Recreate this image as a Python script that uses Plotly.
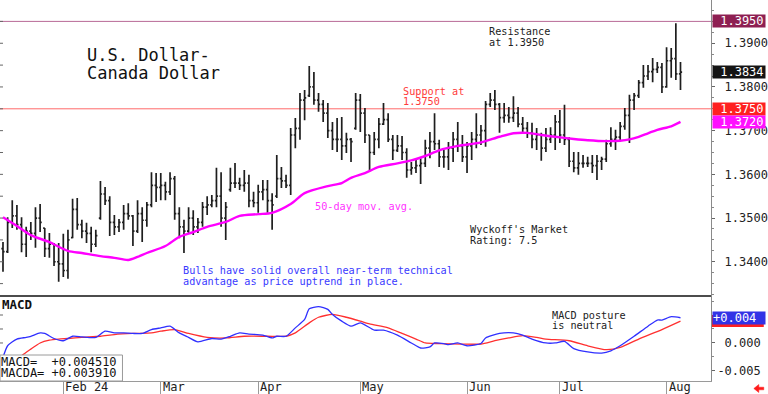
import pandas as pd
import plotly.graph_objects as go

# ---------------- data ----------------
sessions = pd.bdate_range("2024-01-15", "2024-08-06")   # trading sessions shown

bar_high = [
    1.3445, 1.3502, 1.3541, 1.3530, 1.3502, 1.3480, 1.3491, 1.3525, 1.3532, 1.3477,
    1.3466, 1.3443, 1.3443, 1.3464, 1.3473, 1.3544, 1.3546, 1.3496, 1.3489, 1.3480,
    1.3473, 1.3585, 1.3571, 1.3550, 1.3507, 1.3498, 1.3530, 1.3534, 1.3507, 1.3541,
    1.3525, 1.3537, 1.3605, 1.3603, 1.3603, 1.3583, 1.3605, 1.3596, 1.3525, 1.3496,
    1.3525, 1.3518, 1.3500, 1.3537, 1.3550, 1.3553, 1.3615, 1.3605, 1.3537, 1.3615,
    1.3626, 1.3592, 1.3610, 1.3599, 1.3560, 1.3576, 1.3587, 1.3587, 1.3557, 1.3644,
    1.3617, 1.3599, 1.3706, 1.3729, 1.3786, 1.3793, 1.3848, 1.3834, 1.3786, 1.3770,
    1.3763, 1.3720, 1.3729, 1.3731, 1.3695, 1.3683, 1.3786, 1.3784, 1.3752, 1.3690,
    1.3697, 1.3729, 1.3763, 1.3740, 1.3690, 1.3690, 1.3688, 1.3660, 1.3628, 1.3633,
    1.3637, 1.3679, 1.3697, 1.3740, 1.3679, 1.3656, 1.3674, 1.3697, 1.3720, 1.3690,
    1.3674, 1.3697, 1.3740, 1.3713, 1.3768, 1.3786, 1.3793, 1.3763, 1.3763, 1.3754,
    1.3779, 1.3754, 1.3731, 1.3720, 1.3718, 1.3706, 1.3695, 1.3706, 1.3708, 1.3736,
    1.3747, 1.3759, 1.3685, 1.3651, 1.3651, 1.3644, 1.3640, 1.3644, 1.3644, 1.3640,
    1.3679, 1.3708, 1.3702, 1.3720, 1.3752, 1.3782, 1.3786, 1.3816, 1.3850, 1.3850,
    1.3866, 1.3857, 1.3855, 1.3891, 1.3889, 1.3946, 1.3857,
]
bar_low = [
    1.3377, 1.3420, 1.3477, 1.3473, 1.3422, 1.3411, 1.3450, 1.3432, 1.3468, 1.3411,
    1.3409, 1.3390, 1.3354, 1.3365, 1.3361, 1.3454, 1.3473, 1.3454, 1.3443, 1.3422,
    1.3434, 1.3496, 1.3530, 1.3459, 1.3461, 1.3468, 1.3473, 1.3496, 1.3436, 1.3466,
    1.3445, 1.3480, 1.3525, 1.3537, 1.3541, 1.3541, 1.3553, 1.3496, 1.3454, 1.3420,
    1.3466, 1.3461, 1.3466, 1.3480, 1.3507, 1.3525, 1.3525, 1.3480, 1.3450, 1.3560,
    1.3569, 1.3564, 1.3560, 1.3525, 1.3525, 1.3512, 1.3541, 1.3512, 1.3473, 1.3546,
    1.3569, 1.3569, 1.3553, 1.3660, 1.3679, 1.3724, 1.3777, 1.3759, 1.3743, 1.3720,
    1.3683, 1.3656, 1.3651, 1.3633, 1.3649, 1.3628, 1.3702, 1.3697, 1.3672, 1.3610,
    1.3644, 1.3660, 1.3713, 1.3674, 1.3633, 1.3651, 1.3633, 1.3592, 1.3599, 1.3603,
    1.3578, 1.3617, 1.3637, 1.3656, 1.3617, 1.3615, 1.3610, 1.3628, 1.3651, 1.3628,
    1.3603, 1.3633, 1.3660, 1.3667, 1.3663, 1.3754, 1.3747, 1.3695, 1.3718, 1.3718,
    1.3720, 1.3708, 1.3695, 1.3683, 1.3660, 1.3656, 1.3631, 1.3651, 1.3672, 1.3656,
    1.3672, 1.3667, 1.3617, 1.3605, 1.3599, 1.3615, 1.3617, 1.3603, 1.3587, 1.3610,
    1.3628, 1.3663, 1.3656, 1.3674, 1.3702, 1.3672, 1.3747, 1.3775, 1.3798, 1.3816,
    1.3811, 1.3832, 1.3786, 1.3798, 1.3821, 1.3816, 1.3793,
]
bar_open = [
    1.3430, 1.3423, 1.3490, 1.3505, 1.3485, 1.3440, 1.3470, 1.3465, 1.3500, 1.3477,
    1.3430, 1.3440, 1.3400, 1.3395, 1.3380, 1.3455, 1.3520, 1.3485, 1.3470, 1.3465,
    1.3440, 1.3500, 1.3555, 1.3540, 1.3490, 1.3480, 1.3490, 1.3510, 1.3505, 1.3470,
    1.3510, 1.3495, 1.3530, 1.3575, 1.3570, 1.3575, 1.3560, 1.3590, 1.3510, 1.3480,
    1.3470, 1.3500, 1.3480, 1.3490, 1.3525, 1.3530, 1.3540, 1.3550, 1.3500, 1.3565,
    1.3580, 1.3580, 1.3575, 1.3580, 1.3540, 1.3535, 1.3560, 1.3565, 1.3540, 1.3550,
    1.3590, 1.3585, 1.3575, 1.3690, 1.3705, 1.3770, 1.3780, 1.3800, 1.3770, 1.3760,
    1.3740, 1.3700, 1.3680, 1.3680, 1.3665, 1.3680, 1.3705, 1.3770, 1.3740, 1.3690,
    1.3650, 1.3680, 1.3715, 1.3725, 1.3680, 1.3655, 1.3665, 1.3650, 1.3610, 1.3615,
    1.3620, 1.3625, 1.3660, 1.3675, 1.3670, 1.3640, 1.3640, 1.3660, 1.3680, 1.3665,
    1.3640, 1.3665, 1.3680, 1.3690, 1.3700, 1.3760, 1.3770, 1.3760, 1.3730, 1.3735,
    1.3730, 1.3740, 1.3715, 1.3705, 1.3695, 1.3680, 1.3690, 1.3660, 1.3680, 1.3690,
    1.3720, 1.3690, 1.3680, 1.3630, 1.3615, 1.3625, 1.3625, 1.3625, 1.3620, 1.3630,
    1.3635, 1.3670, 1.3680, 1.3685, 1.3710, 1.3735, 1.3770, 1.3780, 1.3810, 1.3825,
    1.3835, 1.3840, 1.3845, 1.3800, 1.3860, 1.3865, 1.3830,
]
bar_close = [
    1.3423, 1.3490, 1.3505, 1.3485, 1.3440, 1.3470, 1.3465, 1.3500, 1.3490, 1.3430,
    1.3440, 1.3400, 1.3395, 1.3380, 1.3450, 1.3520, 1.3485, 1.3470, 1.3465, 1.3440,
    1.3460, 1.3555, 1.3540, 1.3490, 1.3480, 1.3490, 1.3510, 1.3505, 1.3470, 1.3510,
    1.3495, 1.3530, 1.3575, 1.3570, 1.3575, 1.3560, 1.3590, 1.3510, 1.3480, 1.3470,
    1.3500, 1.3480, 1.3490, 1.3525, 1.3530, 1.3540, 1.3550, 1.3500, 1.3525, 1.3580,
    1.3580, 1.3575, 1.3580, 1.3540, 1.3535, 1.3560, 1.3565, 1.3540, 1.3530, 1.3590,
    1.3585, 1.3575, 1.3690, 1.3705, 1.3770, 1.3775, 1.3800, 1.3770, 1.3760, 1.3740,
    1.3700, 1.3680, 1.3680, 1.3665, 1.3680, 1.3675, 1.3770, 1.3740, 1.3690, 1.3650,
    1.3680, 1.3715, 1.3725, 1.3680, 1.3655, 1.3665, 1.3650, 1.3610, 1.3615, 1.3620,
    1.3625, 1.3660, 1.3675, 1.3670, 1.3640, 1.3640, 1.3660, 1.3680, 1.3665, 1.3640,
    1.3665, 1.3680, 1.3690, 1.3700, 1.3760, 1.3770, 1.3760, 1.3730, 1.3735, 1.3730,
    1.3740, 1.3715, 1.3705, 1.3695, 1.3680, 1.3690, 1.3660, 1.3680, 1.3690, 1.3720,
    1.3690, 1.3680, 1.3630, 1.3615, 1.3625, 1.3625, 1.3625, 1.3620, 1.3630, 1.3635,
    1.3670, 1.3680, 1.3685, 1.3710, 1.3735, 1.3770, 1.3780, 1.3810, 1.3825, 1.3835,
    1.3840, 1.3845, 1.3800, 1.3860, 1.3865, 1.3830, 1.3834,
]

# 50-day moving average, read at selected sessions (session number from start)
ma_session = [0, 3, 6, 10, 14, 17, 21, 24, 27, 29, 31, 35, 38, 41, 44, 48, 51, 55, 58, 62,
              65, 70, 73, 75, 78, 81, 85, 88, 91, 94, 98, 103, 107, 110, 113, 116, 119, 123,
              126, 130, 133, 135, 137, 139, 141, 144, 146]
ma_value = [1.3502, 1.3482, 1.3461, 1.3445, 1.3425, 1.3420, 1.3413, 1.3409, 1.3404, 1.3411,
            1.3420, 1.3436, 1.3457, 1.3468, 1.3480, 1.3491, 1.3505, 1.3509, 1.3512, 1.3532,
            1.3557, 1.3573, 1.3580, 1.3592, 1.3603, 1.3617, 1.3625, 1.3632, 1.3642, 1.3655,
            1.3665, 1.3673, 1.3686, 1.3694, 1.3695, 1.3690, 1.3686, 1.3681, 1.3678, 1.3676,
            1.3677, 1.3680, 1.3686, 1.3694, 1.3702, 1.3710, 1.3720]

# MACD (blue) and its average MACDA (red), read at selected sessions
macd_session = [0, 1, 3, 5, 6, 8, 9, 11, 13, 15, 17, 20, 22, 24, 26, 28, 30, 32, 34, 36,
                38, 40, 42, 45, 47, 49, 51, 53, 56, 58, 59, 61, 63, 65, 66, 68, 70, 71, 73, 75,
                77, 80, 82, 85, 88, 90, 92, 93, 95, 96, 98, 100, 103, 104, 107, 110, 112, 114,
                117, 119, 121, 123, 126, 129, 131, 133, 136, 139, 141, 142, 144, 146]
macd_value = [-0.0026, -0.0005, 0.0007, 0.0010, 0.0012, 0.0018, 0.0017, 0.0008, 0.0004, 0.0012,
              0.0011, 0.0010, 0.0021, 0.0018, 0.0018, 0.0017, 0.0017, 0.0024, 0.0027, 0.0030,
              0.0018, 0.0010, 0.0002, 0.0008, 0.0007, 0.0012, 0.0018, 0.0016, 0.0014, 0.0009,
              0.0012, 0.0012, 0.0027, 0.0042, 0.0061, 0.0065, 0.0060, 0.0051, 0.0039, 0.0030,
              0.0036, 0.0023, 0.0023, 0.0014, 0.0000, -0.0009, -0.0007, 0.0000, -0.0001, -0.0003,
              0.0000, -0.0005, -0.0001, 0.0009, 0.0017, 0.0018, 0.0014, 0.0007, 0.0000, 0.0000,
              0.0003, -0.0010, -0.0016, -0.0018, -0.0014, -0.0005, 0.0012, 0.0030, 0.0041, 0.0041,
              0.0047, 0.00451]
macda_session = [0, 4, 6, 8, 10, 12, 14, 17, 21, 24, 28, 32, 34, 37, 40, 44, 48, 52, 57, 61,
                 63, 66, 68, 71, 74, 77, 79, 83, 86, 89, 91, 94, 99, 103, 106, 109, 112, 115,
                 117, 122, 126, 130, 133, 137, 142, 146]
macda_value = [-0.0055, -0.0023, -0.0011, 0.0000, 0.0005, 0.0007, 0.0008, 0.0010, 0.0012, 0.0015,
               0.0017, 0.0018, 0.0021, 0.0024, 0.0017, 0.0010, 0.0009, 0.0012, 0.0012, 0.0012,
               0.0018, 0.0036, 0.0046, 0.0051, 0.0046, 0.0039, 0.0034, 0.0027, 0.0017, 0.0007,
               0.0000, -0.0001, -0.0002, -0.0002, 0.0004, 0.0009, 0.0013, 0.0010, 0.0007, 0.0004,
               -0.0005, -0.0012, -0.0008, 0.0007, 0.0024, 0.00391]

price_ticks = [1.34, 1.35, 1.36, 1.37, 1.38, 1.39]
macd_ticks = [-0.005, 0.0, 0.005]
macd_tick_text = ["-0.005", "\u00a00.000", ""]      # the 0.005 label sits under the value boxes
month_labels = ["Feb 24", "Mar", "Apr", "May", "Jun", "Jul", "Aug"]

RESISTANCE = 1.3950
SUPPORT = 1.3750
LAST_CLOSE = 1.3834
LAST_MA = 1.3720
MACD_LAST = 0.004510
MACDA_LAST = 0.003910
MACD_BOX_TEXT = "+0.004"

# ---------------- layout helpers ----------------
W, H = 768, 394
ML, MR, MT, MB = 0, 54, 0, 13
PW, PH = W - ML - MR, H - MT - MB          # 714 x 381
SPLIT = 296                                 # pixel row of panel divider
PRICE_DOM = [1 - SPLIT / PH, 1]
MACD_DOM = [0, 1 - SPLIT / PH]
MONO = "DejaVu Sans Mono"

def px(x):
    return x / PW

def py(y):
    return 1 - y / PH

x_idx = list(range(len(sessions)))
month_pos = [i for i in range(1, len(sessions)) if sessions[i].month != sessions[i - 1].month]

fig = go.Figure()

fig.add_trace(go.Ohlc(
    x=x_idx, open=bar_open, high=bar_high, low=bar_low, close=bar_close,
    increasing=dict(line=dict(color="#1e1e1e", width=1.7)),
    decreasing=dict(line=dict(color="#1e1e1e", width=1.7)),
    tickwidth=0.35, hoverinfo="skip", showlegend=False,
    xaxis="x", yaxis="y",
))
fig.add_trace(go.Scatter(
    x=ma_session, y=ma_value, mode="lines",
    line=dict(color="#ff00ff", width=2.4, shape="spline", smoothing=0.8),
    hoverinfo="skip", showlegend=False, xaxis="x", yaxis="y",
))
fig.add_trace(go.Scatter(
    x=macda_session, y=macda_value, mode="lines",
    line=dict(color="#ff3030", width=1.3, shape="spline", smoothing=0.6),
    hoverinfo="skip", showlegend=False, xaxis="x", yaxis="y2",
))
fig.add_trace(go.Scatter(
    x=macd_session, y=macd_value, mode="lines",
    line=dict(color="#3030ff", width=1.3, shape="spline", smoothing=0.6),
    hoverinfo="skip", showlegend=False, xaxis="x", yaxis="y2",
))

X_RANGE = [-3.0 / 4.66, (PW - 3.0) / 4.66]

axis_font = dict(family=MONO, size=12, color="#222222")
fig.update_layout(
    width=W, height=H,
    margin=dict(l=ML, r=MR, t=MT, b=MB),
    paper_bgcolor="white", plot_bgcolor="white",
    showlegend=False,
    xaxis=dict(
        domain=[0, 1], anchor="y2", range=X_RANGE,
        showgrid=False, zeroline=False,
        showline=True, linecolor="#9a9a9a", linewidth=1,
        tickvals=month_pos, ticks="outside", ticklen=13, tickcolor="#9a9a9a",
        showticklabels=False,
        rangeslider=dict(visible=False),
    ),
    yaxis=dict(
        domain=PRICE_DOM, anchor="x", side="right",
        range=[RESISTANCE - (SPLIT - 21.4) / 4370, RESISTANCE + 21.4 / 4370],
        showgrid=False, zeroline=False,
        showline=True, linecolor="#8a8a8a", linewidth=1,
        tickvals=price_ticks, ticktext=["\u00a0" + f"{v:.4f}" for v in price_ticks],
        ticks="outside", ticklen=3, tickcolor="#666666",
        minor=dict(dtick=0.0025, ticks="outside", ticklen=2, tickcolor="#888888"),
        tickfont=axis_font,
    ),
    yaxis2=dict(
        domain=MACD_DOM, anchor="x", side="right",
        range=[-0.0068, 0.0084],
        showgrid=False, zeroline=False,
        showline=True, linecolor="#8a8a8a", linewidth=1,
        tickvals=macd_ticks, ticktext=macd_tick_text,
        ticks="outside", ticklen=3, tickcolor="#666666",
        minor=dict(dtick=0.0025, ticks="outside", ticklen=2, tickcolor="#888888"),
        tickfont=axis_font,
    ),
)

shapes = []
# resistance / support reference lines
shapes.append(dict(type="line", xref="paper", yref="y", x0=0, x1=1, y0=RESISTANCE, y1=RESISTANCE,
                   line=dict(color="#b86a96", width=1), layer="below"))
shapes.append(dict(type="line", xref="paper", yref="y", x0=0, x1=1, y0=SUPPORT, y1=SUPPORT,
                   line=dict(color="#ff6a6a", width=1), layer="below"))
# panel divider
shapes.append(dict(type="line", xref="paper", yref="paper", x0=0, x1=1, y0=py(SPLIT), y1=py(SPLIT),
                   line=dict(color="#111111", width=1.5)))
# small inside ticks on the left edge
for k in range(13):
    v = 1.335 + 0.005 * k
    shapes.append(dict(type="line", xref="paper", yref="y", x0=0, x1=px(3), y0=v, y1=v,
                       line=dict(color="#666666", width=1)))
for k in range(-2, 3):
    v = 0.0025 * k
    shapes.append(dict(type="line", xref="paper", yref="y2", x0=0, x1=px(3), y0=v, y1=v,
                       line=dict(color="#666666", width=1)))
# MACD readout box
shapes.append(dict(type="rect", xref="paper", yref="paper", x0=0, x1=px(123), y0=py(381), y1=py(355),
                   line=dict(color="#9a9a9a", width=1), fillcolor="white", layer="above"))
# red MACDA value marker peeking out under the blue MACD value box
shapes.append(dict(type="rect", xref="paper", yref="y2", x0=px(715), x1=px(767),
                   y0=MACDA_LAST - 6 / 5600, y1=MACDA_LAST + 6 / 5600,
                   fillcolor="#ff2020", line=dict(width=0)))
# red arrow at bottom right
arrow_pts = [(757, 388.5), (762, 384.5), (762, 387.2), (767, 387.2), (767, 389.8), (762, 389.8), (762, 392.5)]
path = "M " + " L ".join(f"{px(a):.5f},{py(b):.5f}" for a, b in arrow_pts) + " Z"
shapes.append(dict(type="path", xref="paper", yref="paper", path=path,
                   fillcolor="#ff1a1a", line=dict(color="#ff1a1a", width=0.5)))
fig.update_layout(shapes=shapes)

ann = []

def text(x, y, s, size=10.2, color="#222222", bold=False):
    ann.append(dict(xref="paper", yref="paper", x=px(x), y=py(y), text=(f"<b>{s}</b>" if bold else s),
                    showarrow=False, xanchor="left", yanchor="middle", align="left",
                    font=dict(family=MONO, size=size, color=color), borderpad=0))

text(86, 55.5, "U.S. Dollar-", size=17, color="#111111")
text(86, 73, "Canada Dollar", size=17, color="#111111")
text(490, 31.5, "Resistance")
text(490, 42, "at 1.3950")
text(404, 91, "Support at", color="#ff3a3a")
text(404, 101, "1.3750", color="#ff3a3a")
text(315, 206.5, "50-day mov. avg.", color="#ff33ff")
text(471, 229.5, "Wyckoff's Market")
text(471, 240.5, "Rating: 7.5")
text(183, 270.5, "Bulls have solid overall near-term technical", color="#3a3aff")
text(183, 281, "advantage as price uptrend in place.", color="#3a3aff")
text(1, 304, "MACD", size=12.5, color="#111111", bold=True)
text(553, 315, "MACD posture")
text(553, 325.5, "is neutral")
text(0, 361.7, "MACD=\u00a0\u00a0" + f"{MACD_LAST:+.6f}", size=12, color="#111111")
text(0, 373.3, "MACDA=\u00a0" + f"{MACDA_LAST:+.6f}", size=12, color="#111111")

# month labels below the axis
for pos, lab in zip(month_pos, month_labels):
    ann.append(dict(xref="x", yref="paper", x=pos, y=py(387.5), text=lab, showarrow=False,
                    xanchor="left", yanchor="middle", xshift=1,
                    font=dict(family=MONO, size=12, color="#222222"), borderpad=0))

# value boxes on the right axis
def box(yref, yval, label, bg):
    ann.append(dict(xref="paper", yref=yref, x=px(715), y=yval, text=label, showarrow=False,
                    xanchor="left", yanchor="middle", align="left", width=52, height=12,
                    bgcolor=bg, borderpad=0,
                    font=dict(family=MONO, size=12, color="white")))

box("y", RESISTANCE, "\u00a0" + f"{RESISTANCE:.4f}", "#8e1f52")
box("y", LAST_CLOSE, "\u00a0" + f"{LAST_CLOSE:.4f}", "#141414")
box("y", SUPPORT, "\u00a0" + f"{SUPPORT:.4f}", "#ff2020")
box("y", LAST_MA, "\u00a0" + f"{LAST_MA:.4f}", "#ff10ff")
box("y2", MACD_LAST, MACD_BOX_TEXT, "#3232e6")

fig.update_layout(annotations=ann)

fig.write_html("out.html",
               config={"displayModeBar": False, "staticPlot": True},
               post_script="document.body.style.margin='0px';document.body.style.overflow='hidden';")
